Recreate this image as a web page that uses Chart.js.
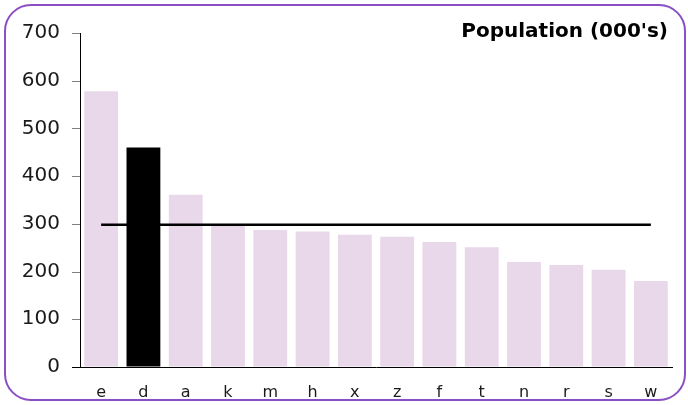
<!DOCTYPE html>
<html>
<head>
<meta charset="utf-8">
<script src="https://cdn.jsdelivr.net/npm/chart.js@4"></script>
<style>
  html, body { margin: 0; padding: 0; background: #fff; }
  #wrap { position: relative; width: 688px; height: 405px; }
  #frame {
    position: absolute; left: 4px; top: 4px; width: 678px; height: 393px;
    border: 2px solid #8a4fc4; border-radius: 27px; pointer-events: none;
  }
</style>
</head>
<body>
<div id="wrap">
  <canvas id="popChart" width="688" height="405"></canvas>
  <div id="frame"></div>
</div>
<script>
// Datos
const categories = ['e', 'd', 'a', 'k', 'm', 'h', 'x', 'z', 'f', 't', 'n', 'r', 's', 'w'];
const population = [578, 460, 361, 296, 287, 284, 277, 273, 262, 251, 220, 214, 204, 180];
const averageLine = [298, 298, 298, 298, 298, 298, 298, 298, 298, 298, 298, 298, 298, 298];
const yMax = 700;
const yStep = 100;
const highlighted = 'd';
const chartTitle = "Population (000's)";

const pink = '#e9d7ea';
const barColors = categories.map(c => c === highlighted ? '#000000' : pink);

// Marcas del eje Y y título arriba a la derecha
const decorPlugin = {
    id: 'decor',
    afterDraw(chart) {
        const c = chart.ctx;
        const y = chart.scales.y;
        const left = chart.chartArea.left;
        c.save();
        y.ticks.forEach(t => {
            const py = Math.round(y.getPixelForValue(t.value)) + 0.5;
            c.strokeStyle = t.value === 0 ? '#000' : '#808080';
            c.lineWidth = 1;
            c.beginPath();
            c.moveTo(left - 8, py);
            c.lineTo(left, py);
            c.stroke();
        });
        c.font = 'bold 20px "DejaVu Sans"';
        c.fillStyle = '#000';
        c.textAlign = 'right';
        c.textBaseline = 'alphabetic';
        c.fillText(chartTitle, 668, 37);
        c.restore();
    }
};

const ctx = document.getElementById('popChart').getContext('2d');
new Chart(ctx, {
    data: {
        labels: categories,
        datasets: [
            {
                type: 'line',
                data: averageLine,
                borderColor: '#000',
                borderWidth: 2.5,
                pointRadius: 0,
                fill: false,
                order: 0
            },
            {
                type: 'bar',
                data: population,
                backgroundColor: barColors,
                borderWidth: 0,
                barPercentage: 0.8,
                categoryPercentage: 1.0,
                order: 1
            }
        ]
    },
    options: {
        responsive: false,
        animation: false,
        layout: { padding: { left: 0, right: 16, top: 33, bottom: 0 } },
        plugins: {
            legend: { display: false },
            tooltip: { enabled: false },
            title: { display: false }
        },
        scales: {
            x: {
                offset: true,
                grid: { drawOnChartArea: false, drawTicks: false },
                border: { display: true, color: '#000', width: 1 },
                ticks: {
                    color: '#1a1a1a',
                    font: { family: 'DejaVu Sans', size: 16 },
                    padding: 16,
                    maxRotation: 0
                },
                afterFit(scale) { scale.height = 38; }
            },
            y: {
                min: 0,
                max: yMax,
                grid: { drawOnChartArea: false, drawTicks: false },
                border: { display: true, color: '#000', width: 1 },
                ticks: {
                    stepSize: yStep,
                    color: '#1a1a1a',
                    font: { family: 'DejaVu Sans', size: 20 },
                    padding: 20
                },
                afterFit(scale) { scale.width = 80; }
            }
        }
    },
    plugins: [decorPlugin]
});
</script>
</body>
</html>
